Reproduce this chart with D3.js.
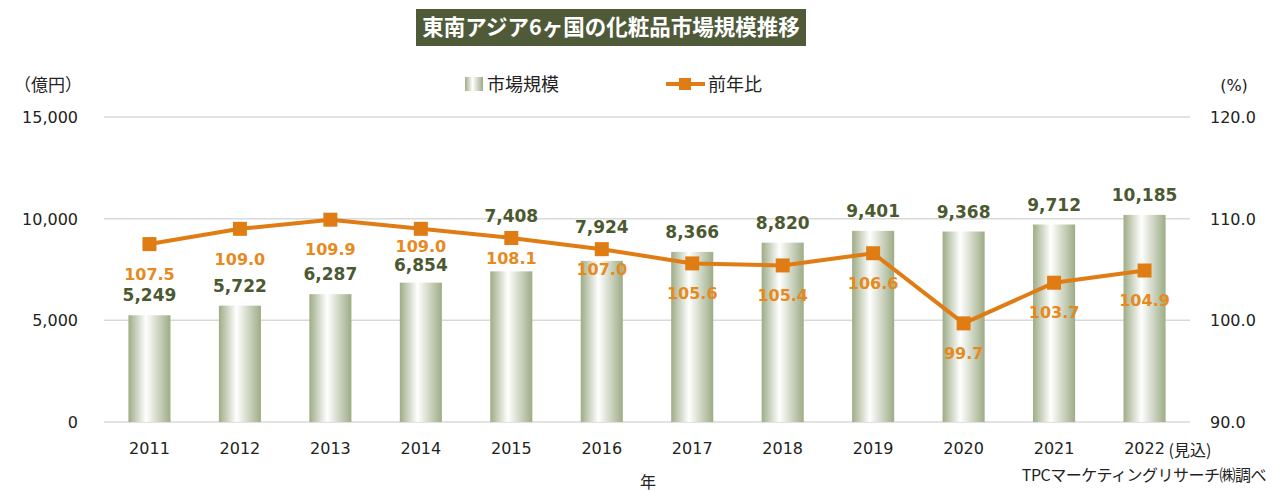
<!DOCTYPE html>
<html><head><meta charset="utf-8">
<script src="https://cdn.jsdelivr.net/npm/d3@7"></script>
<style>
body{margin:0;background:#fff;}
svg{font-family:"DejaVu Sans","Noto Sans CJK JP",sans-serif;}
</style></head>
<body><svg id="c" width="1284" height="492"></svg>
<script>
const years = ["2011","2012","2013","2014","2015","2016","2017","2018","2019","2020","2021","2022"];
const marketSize = [5249,5722,6287,6854,7408,7924,8366,8820,9401,9368,9712,10185];
const yoy = [107.5,109.0,109.9,109.0,108.1,107.0,105.6,105.4,106.6,99.7,103.7,104.9];
const leftTicks = [0,5000,10000,15000];
const rightTicks = [90,100,110,120];

const svg = d3.select("#c");
const L = 104, R = 1190, T = 117, B = 422;
const x = d3.scaleBand().domain(years).range([L,R]).paddingInner(0.535).paddingOuter(0.27);
const yL = d3.scaleLinear().domain([0,15000]).range([B,T]);
const yR = d3.scaleLinear().domain([90,120]).range([B,T]);
const cx = d => x(d) + x.bandwidth()/2;
const JP = "'Noto Sans CJK JP',sans-serif", NUM = "'DejaVu Sans',sans-serif";

// gradient
const defs = svg.append("defs");
const g = defs.append("linearGradient").attr("id","barg").attr("x1","0").attr("x2","1").attr("y1","0").attr("y2","0");
g.append("stop").attr("offset","0%").attr("stop-color","#9dac86");
g.append("stop").attr("offset","42%").attr("stop-color","#ffffff");
g.append("stop").attr("offset","100%").attr("stop-color","#9dac86");

// title
svg.append("rect").attr("x",416).attr("y",9).attr("width",390).attr("height",37).attr("fill","#4f5a38");
svg.append("text").attr("x",611).attr("y",35).attr("text-anchor","middle").attr("fill","#fff")
  .attr("font-size",21.5).attr("font-weight","bold").attr("font-family",JP).text("東南アジア6ヶ国の化粧品市場規模推移");

// gridlines
svg.append("g").selectAll("line").data(leftTicks).join("line")
  .attr("x1",L).attr("x2",R).attr("y1",d=>yL(d)).attr("y2",d=>yL(d))
  .attr("stroke","#d9d9d9").attr("stroke-width",1.5);

// left axis
const la = svg.append("g").attr("transform",`translate(${L-26},0)`)
  .call(d3.axisLeft(yL).tickValues(leftTicks).tickFormat(d3.format(",")).tickSize(0));
la.select(".domain").remove();
la.selectAll("text").attr("font-size",16).attr("fill","#222").attr("dy","0.35em").attr("x",0).attr("font-family",NUM);

// right axis
const ra = svg.append("g").attr("transform",`translate(${R+20},0)`)
  .call(d3.axisRight(yR).tickValues(rightTicks).tickFormat(d3.format(".1f")).tickSize(0));
ra.select(".domain").remove();
ra.selectAll("text").attr("font-size",16).attr("fill","#222").attr("dy","0.35em").attr("x",0).attr("font-family",NUM);

// x axis
const xa = svg.append("g").attr("transform",`translate(0,${B+18})`).call(d3.axisBottom(x).tickSize(0));
xa.select(".domain").remove();
xa.selectAll("text").attr("font-size",16).attr("fill","#222").attr("dy","0.71em").attr("font-family",NUM);
svg.append("text").attr("x",cx("2022")+24).attr("y",B+34).attr("font-size",16).attr("fill","#222")
  .attr("font-family",JP).text("(見込)");

// axis titles
svg.append("text").attr("x",82).attr("y",91).attr("text-anchor","end").attr("font-size",17).attr("fill","#222")
  .attr("font-family",JP).text("（億円）");
svg.append("text").attr("x",1234).attr("y",91).attr("text-anchor","middle").attr("font-size",16).attr("fill","#222")
  .attr("font-family",NUM).text("(%)");
svg.append("text").attr("x",648).attr("y",488).attr("text-anchor","middle").attr("font-size",16).attr("fill","#222")
  .attr("font-family",JP).text("年");
svg.append("text").attr("x",1266).attr("y",481).attr("text-anchor","end").attr("font-size",16).attr("fill","#222")
  .attr("font-family",JP).attr("letter-spacing","-0.5").text("TPCマーケティングリサーチ㈱調べ");

// legend
svg.append("rect").attr("x",465).attr("y",77).attr("width",18).attr("height",14).attr("fill","url(#barg)");
svg.append("text").attr("x",487).attr("y",91).attr("font-size",18).attr("fill","#222").attr("font-family",JP).text("市場規模");
svg.append("line").attr("x1",666).attr("x2",705).attr("y1",84).attr("y2",84).attr("stroke","#e07c14").attr("stroke-width",4);
svg.append("rect").attr("x",679).attr("y",78).attr("width",12).attr("height",12).attr("fill","#e07c14");
svg.append("text").attr("x",708).attr("y",91).attr("font-size",18).attr("fill","#222").attr("font-family",JP).text("前年比");

// bars
svg.append("g").selectAll("rect").data(years).join("rect")
  .attr("x",d=>x(d)).attr("width",x.bandwidth())
  .attr("y",(d,i)=>yL(marketSize[i])).attr("height",(d,i)=>B-yL(marketSize[i]))
  .attr("fill","url(#barg)");

// label placement (centers), avoiding collisions between bar and line labels
const place = years.map((d,i)=>{
  const m = yR(yoy[i]), top = yL(marketSize[i]);
  let lineC = m + 30, barC = top - 20;
  if (barC >= m - 12 && barC <= lineC + 12) {
    if (top - m > 40) { lineC = m + 17; barC = top - 18; }
    else { barC = Math.min(top - 20, m - 22); lineC = m + 20; }
  }
  return {lineC, barC};
});

// bar labels
svg.append("g").selectAll("text").data(years).join("text")
  .attr("x",d=>cx(d)).attr("y",(d,i)=>place[i].barC).attr("dy","0.36em")
  .attr("text-anchor","middle").attr("font-size",17).attr("font-weight","bold").attr("fill","#4b5930")
  .attr("font-family",NUM).text((d,i)=>d3.format(",")(marketSize[i]));

// line
const line = d3.line().x((d,i)=>cx(years[i])).y(d=>yR(d));
svg.append("path").datum(yoy).attr("d",line).attr("fill","none").attr("stroke","#e07c14").attr("stroke-width",4);
svg.append("g").selectAll("rect").data(yoy).join("rect")
  .attr("x",(d,i)=>cx(years[i])-7).attr("y",d=>yR(d)-7).attr("width",14).attr("height",14).attr("fill","#e07c14");

// line labels
svg.append("g").selectAll("text").data(yoy).join("text")
  .attr("x",(d,i)=>cx(years[i])).attr("y",(d,i)=>place[i].lineC).attr("dy","0.36em")
  .attr("text-anchor","middle").attr("font-size",16).attr("font-weight","bold").attr("fill","#e68a1e")
  .attr("font-family",NUM).text(d=>d3.format(".1f")(d));
</script></body></html>
